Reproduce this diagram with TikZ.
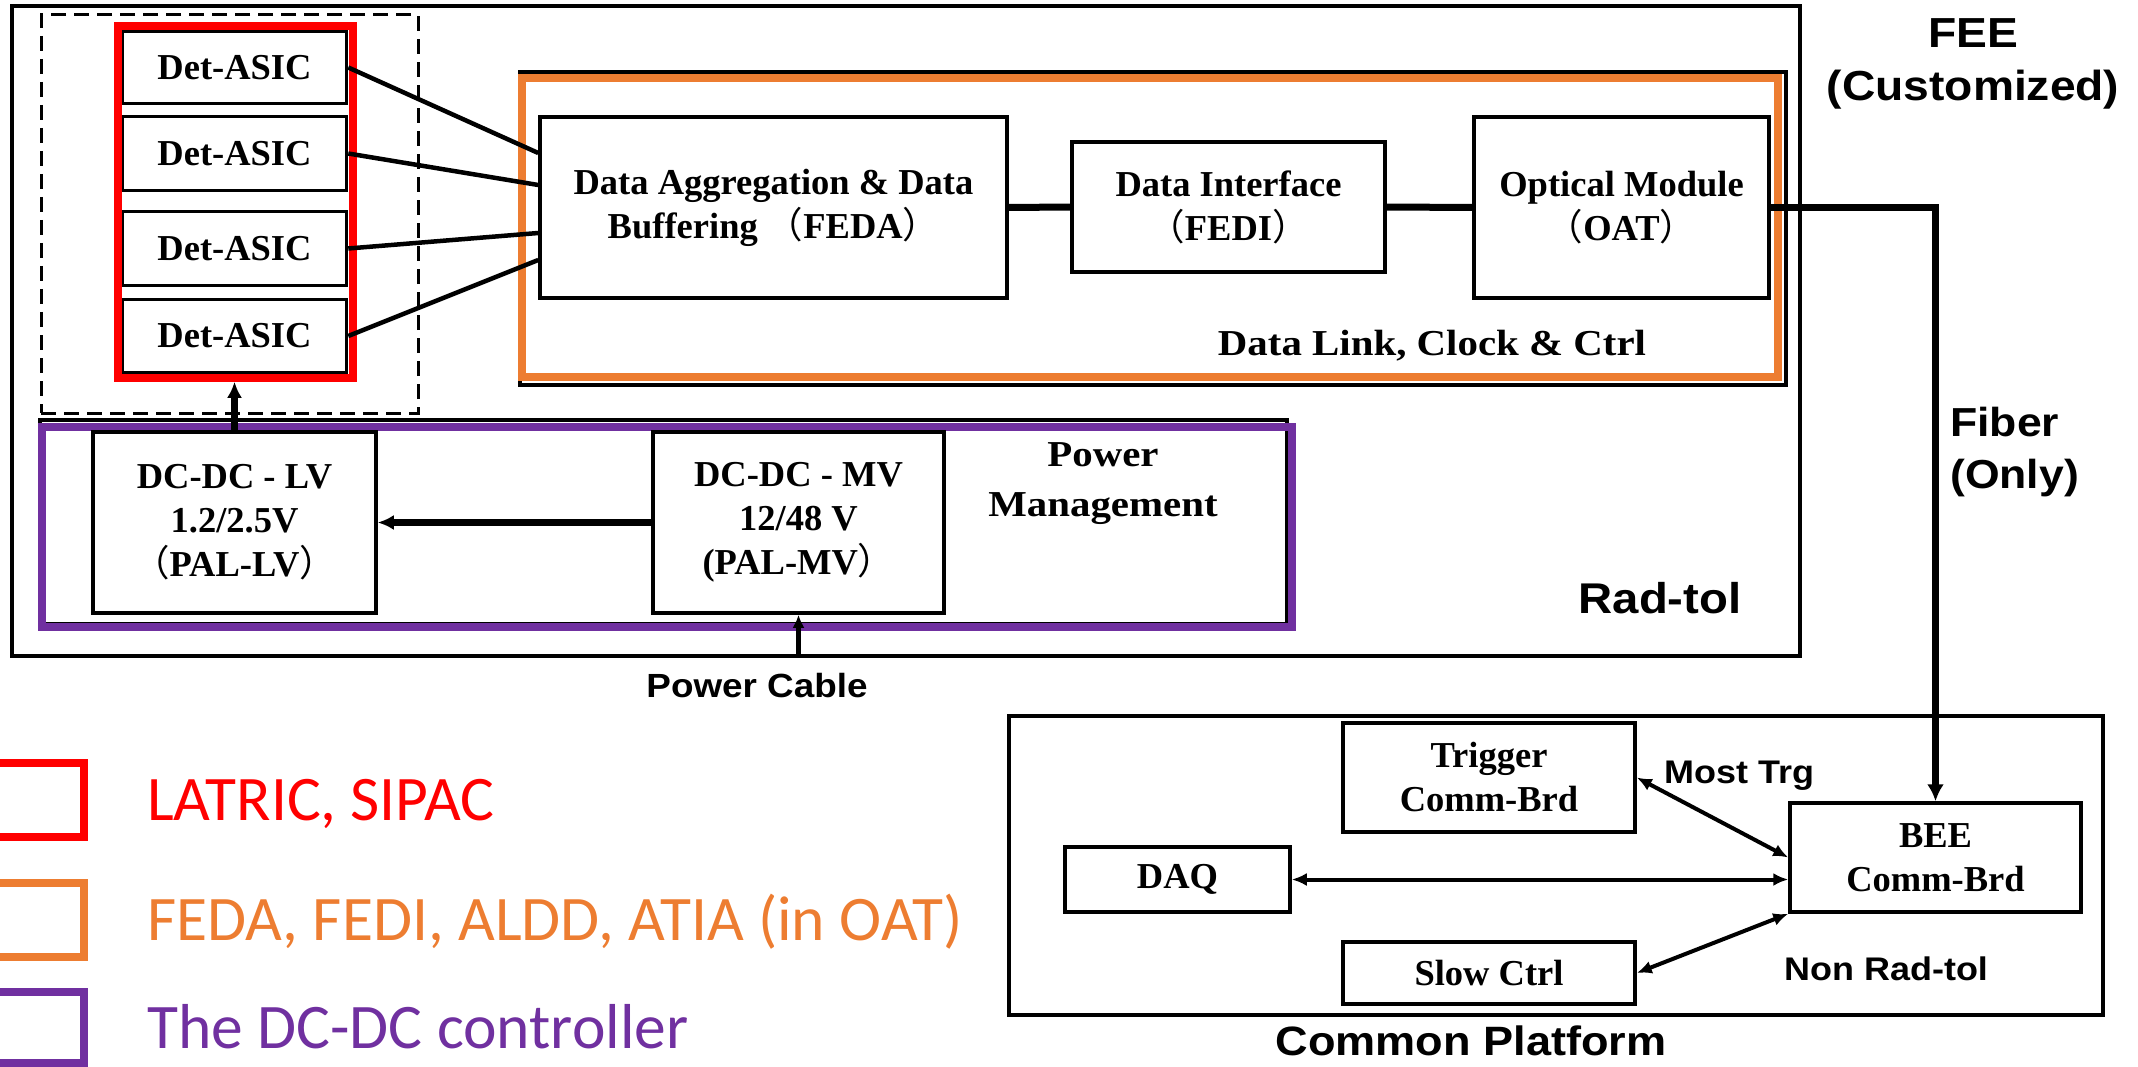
\documentclass[tikz,border=0pt]{standalone}
\usepackage{fontspec}
\setmainfont{Liberation Serif}
\newfontfamily\serifwide{Liberation Serif}[FakeStretch=1.12]
\newfontfamily\labsans{Liberation Sans}[FakeStretch=1.1]
\newfontfamily\legfont{Carlito}
\newfontfamily\cjkfont{Noto Sans CJK SC}
\usetikzlibrary{arrows.meta,calc}

\definecolor{cRed}{HTML}{FF0000}
\definecolor{cOrange}{HTML}{ED7D31}
\definecolor{cPurple}{HTML}{7030A0}

% full-width parentheses
\newcommand{\fwl}{{\cjkfont\mdseries （}}
\newcommand{\fwr}{{\cjkfont\mdseries ）}}
% block text
\newcommand{\dbfont}{\fontsize{36.5}{44}\selectfont\bfseries}
\newcommand{\sanslbl}[1]{\labsans\bfseries\fontsize{#1}{1.27\dimexpr#1pt\relax}\selectfont}

\begin{document}
\begin{tikzpicture}[x=1pt,y=-1pt,
  box/.style={draw, line width=3.5pt, inner sep=0pt, align=center, font=\dbfont},
  hull/.style={draw, inner sep=0pt},
  txt/.style={inner sep=0pt},
  wire/.style={line width=4.5pt},
  bus/.style={line width=7pt, line join=miter},
  bigtip/.style={-{Latex[length=16pt,width=15pt]}},
  biarrow/.style={line width=4pt, {Latex[length=15pt,width=13pt]}-{Latex[length=15pt,width=13pt]}}]

\useasboundingbox (0,0) rectangle (2138,1067);
\clip (0,0) rectangle (2138,1067);

% ---------------- front-end electronics frame ----------------
\node[hull, line width=3.5pt, minimum width=1788pt, minimum height=650pt] (radtol) at (906,331) {};
\node[hull, line width=3pt, dash pattern=on 15pt off 8pt, minimum width=377pt, minimum height=398pt] (grp) at (229.5,214) {};

% detector ASICs
\node[box, minimum width=224pt, minimum height=72pt] (det1) at (234.5,67.5) {Det-ASIC};
\node[box, minimum width=224pt, minimum height=74pt] (det2) at (234.5,153.5) {Det-ASIC};
\node[box, minimum width=224pt, minimum height=74pt] (det3) at (234.5,248.5) {Det-ASIC};
\node[box, minimum width=224pt, minimum height=73pt] (det4) at (234.5,336) {Det-ASIC};
\node[hull, draw=cRed, line width=7.5pt, minimum width=235pt, minimum height=352pt] (asics) at (235.5,202) {};

% data link, clock and control
\node[hull, line width=3.5pt, minimum width=1266pt, minimum height=313pt] (dlshadow) at (1153,228.5) {};
\node[hull, draw=cOrange, line width=8pt, minimum width=1256pt, minimum height=299pt] (datalink) at (1150,227.5) {};
\node[box, minimum width=467pt, minimum height=181pt] (feda) at (773.5,207.5)
  {Data Aggregation \& Data\\Buffering \fwl FEDA\fwr};
\node[box, minimum width=313pt, minimum height=130pt] (fedi) at (1228.5,207)
  {Data Interface\\\fwl FEDI\fwr};
\node[box, minimum width=295pt, minimum height=181pt] (oat) at (1621.5,207.5)
  {Optical Module\\\fwl OAT\fwr};
\node[txt, anchor=base, font={\serifwide\dbfont}] (dltxt) at (1432,355) {Data Link, Clock \& Ctrl};

% power management
\node[hull, line width=3.5pt, minimum width=1247pt, minimum height=204pt] (pwshadow) at (663.5,522) {};
\node[hull, draw=cPurple, line width=8pt, minimum width=1250pt, minimum height=200pt] (power) at (667,527) {};
\node[box, minimum width=283pt, minimum height=181pt] (lv) at (234.5,522.5)
  {DC-DC - LV\\1.2/2.5V\\\fwl PAL-LV\fwr};
\node[box, minimum width=291pt, minimum height=181pt] (mv) at (798.5,522.5)
  {DC-DC - MV\\12/48 V\\(PAL-MV\fwr};
\node[txt, align=center, font={\serifwide\fontsize{36.5}{50}\selectfont\bfseries}] (pwtxt) at (1103,484)
  {Power\\Management};

\node[txt, anchor=base, font=\sanslbl{43}] (radtxt) at (1660,613) {Rad-tol};
\node[txt, anchor=base, font=\sanslbl{33.5}] (cabletxt) at (757,697) {Power Cable};

% side labels
\node[txt, align=center, font=\sanslbl{42}] (feetxt) at (1973,64) {FEE\\(Customized)};
\node[txt, anchor=west, align=left, font=\sanslbl{40.5}] (fibertxt) at (1950,452) {Fiber\\(Only)};

% ---------------- common platform ----------------
\node[hull, line width=4pt, minimum width=1094pt, minimum height=299pt] (common) at (1556,865.5) {};
\node[box, minimum width=292pt, minimum height=109pt] (trigger) at (1489,777.5) {Trigger\\Comm-Brd};
\node[box, minimum width=225pt, minimum height=65pt] (daq) at (1177.5,879.5) {DAQ};
\node[box, minimum width=291pt, minimum height=109pt] (bee) at (1935.5,857.5) {BEE\\Comm-Brd};
\node[box, minimum width=292pt, minimum height=62pt] (slow) at (1489,973) {Slow Ctrl};
\node[txt, anchor=base west, font=\sanslbl{32.7}] (mosttxt) at (1664,783) {Most Trg};
\node[txt, anchor=base west, font=\sanslbl{32.7}] (nonradtxt) at (1784,980) {Non Rad-tol};
\node[txt, anchor=base, font=\sanslbl{41}] (cptxt) at (1471,1055) {Common Platform};

% ---------------- connectors ----------------
\draw[wire] (det1.east) -- ($(feda.west)+(0,-54.5)$);
\draw[wire] (det2.east) -- ($(feda.west)+(0,-22.5)$);
\draw[wire] (det3.east) -- ($(feda.west)+(0,25.5)$);
\draw[wire] (det4.east) -- ($(feda.west)+(0,52.5)$);
\draw[bus] (feda.east) -- (fedi.west);
\draw[bus] (fedi.east) -- (oat.west);
\draw[line width=7.5pt, line join=miter, -{Latex[length=17pt,width=17pt]}] (oat.east) -| (bee.north);
\draw[bus, bigtip] (mv.west) -- (lv.east);
\draw[bus, bigtip] (lv.north) -- (lv.north |- asics.south);
\draw[line width=5pt, -{Latex[length=13pt,width=12pt]}] (mv.south |- radtol.south) -- (mv.south);
\draw[biarrow] (trigger.east) -- (bee.west);
\draw[biarrow] (daq.east) -- (daq.east -| bee.west);
\draw[biarrow] (slow.east) -- (bee.south west);

% ---------------- key ----------------
\node[hull, draw=cRed, line width=7.5pt, minimum width=124pt, minimum height=74pt] (keyA) at (22,800) {};
\node[hull, draw=cOrange, line width=7.5pt, minimum width=124pt, minimum height=74pt] (keyB) at (22,920) {};
\node[hull, draw=cPurple, line width=7.5pt, minimum width=124pt, minimum height=71pt] (keyC) at (22,1027.5) {};
\node[txt, anchor=base west, text=cRed, font={\legfont\fontsize{63.5}{72}\selectfont}] (keyAtxt) at (147,820) {LATRIC, SIPAC};
\node[txt, anchor=base west, text=cOrange, font={\legfont\fontsize{63.5}{72}\selectfont}] (keyBtxt) at (147,940) {FEDA, FEDI, ALDD, ATIA (in OAT)};
\node[txt, anchor=base west, text=cPurple, font={\legfont\fontsize{63.5}{72}\selectfont}] (keyCtxt) at (147,1048) {The DC-DC controller};
\end{tikzpicture}
\end{document}
